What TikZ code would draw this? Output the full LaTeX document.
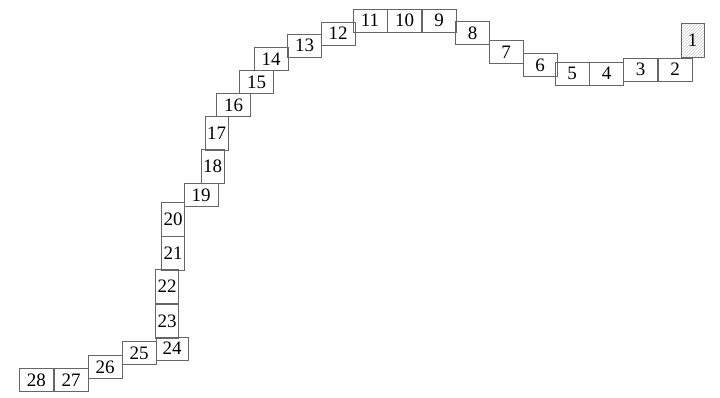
\documentclass[tikz,border=0pt]{standalone}
\usepackage{fontspec}
\setmainfont{Liberation Serif}
\usepackage{tikz}
\usetikzlibrary{positioning,patterns}

\begin{document}
\begin{tikzpicture}[
  x=1pt,y=-1pt,
  node distance=0pt,
  hcell/.style={draw=black!60,line width=0.5pt,minimum width=34pt,minimum height=23pt,inner sep=0pt,font=\fontsize{19}{19}\selectfont},
  vcell/.style={hcell,minimum width=23pt,minimum height=34pt}
]
\useasboundingbox (0,0) rectangle (720,398);
% right end, going down and left
\node[vcell,pattern=north east lines,pattern color=black!20] (c1) at (692.5,40.5) {1};
\node[hcell] (c2) at (675,69.5) {2};
\node[hcell,left=of c2] (c3) {3};
\node[hcell] (c4) at (606.5,73.5) {4};
\node[hcell,left=of c4] (c5) {5};
\node[hcell] (c6) at (540,65) {6};
\node[hcell] (c7) at (506,52) {7};
\node[hcell] (c8) at (472.5,33) {8};
% top row
\node[hcell] (c9) at (439,20.5) {9};
\node[hcell,left=of c9] (c10) {10};
\node[hcell,left=of c10] (c11) {11};
\node[hcell] (c12) at (338,33.5) {12};
\node[hcell] (c13) at (304.5,45.5) {13};
\node[hcell] (c14) at (271,59) {14};
\node[hcell] (c15) at (256.5,82) {15};
\node[hcell] (c16) at (233.5,105) {16};
\node[vcell] (c17) at (216.5,133.5) {17};
\node[vcell] (c18) at (212.5,166.5) {18};
\node[hcell] (c19) at (201,195) {19};
% left column
\node[vcell] (c20) at (173,219) {20};
\node[vcell,below=of c20] (c21) {21};
\node[vcell] (c22) at (167,286.5) {22};
\node[vcell,below=of c22] (c23) {23};
% bottom
\node[hcell,minimum width=32pt] (c24) at (172,348.5) {24};
\node[hcell] (c25) at (139,353) {25};
\node[hcell] (c26) at (105,367) {26};
\node[hcell] (c27) at (71,380) {27};
\node[hcell,left=of c27] (c28) {28};
\end{tikzpicture}
\end{document}
